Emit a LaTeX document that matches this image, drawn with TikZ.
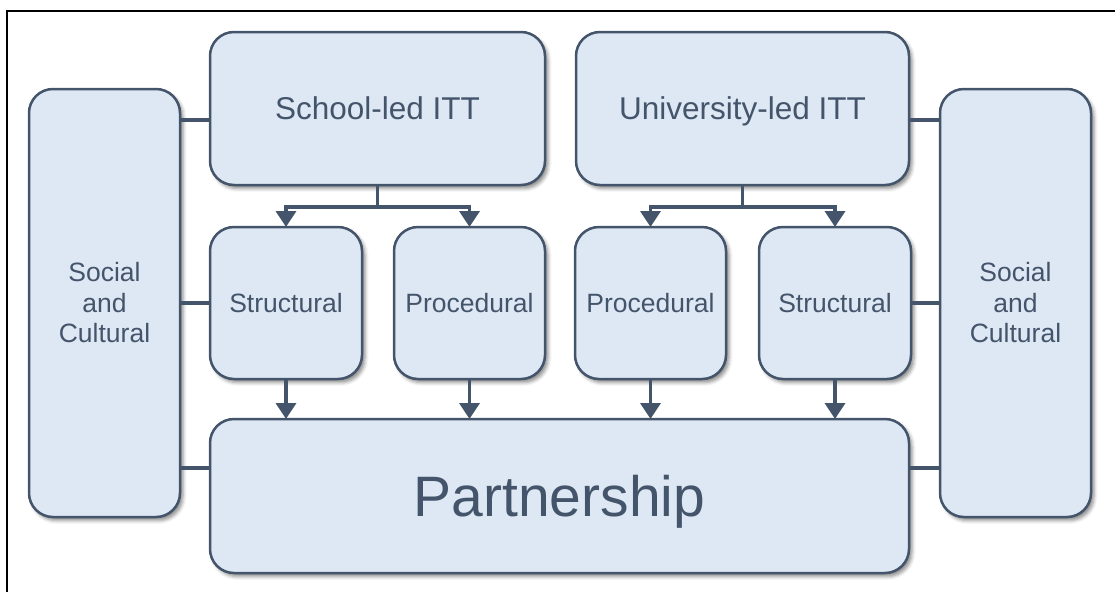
\documentclass[tikz,border=0pt]{standalone}
\usepackage{fontspec}
\setmainfont{Liberation Sans}
\usetikzlibrary{arrows.meta,shadows.blur}
\definecolor{boxfill}{RGB}{221,232,244}
\definecolor{boxline}{RGB}{68,84,106}
\begin{document}
\begin{tikzpicture}[x=1pt,y=-1pt,
  box/.style={draw=boxline, fill=boxfill, line width=2.5pt, rounded corners=24pt,
    inner sep=0pt, outer sep=0pt, text=boxline, align=center,
    blur shadow={shadow xshift=3pt, shadow yshift=-3.5pt, shadow blur radius=3.5pt, shadow opacity=45},
    font=\fontsize{26.5}{30.5}\selectfont},
  oneline/.style={text depth=0pt},
  conn/.style={draw=boxline, line width=3.5pt},
  arr/.style={conn, -{Triangle[width=20pt,length=16pt]}}]
\useasboundingbox (0,0) rectangle (1115,592);
% frame (left and top only)
\draw[black, line width=2.5pt] (7,592) -- (7,11) -- (1115,11);
% boxes
\node[box, minimum width=151pt, minimum height=428pt] (socL) at (104.5,303) {Social\\and\\Cultural};
\node[box, minimum width=151pt, minimum height=428pt] (socR) at (1015.5,303) {Social\\and\\Cultural};
\node[box, oneline, minimum width=335pt, minimum height=153pt, font=\fontsize{31.5}{36}\selectfont] (school) at (377.5,108.5) {School-led ITT};
\node[box, oneline, minimum width=333pt, minimum height=153pt, font=\fontsize{31.5}{36}\selectfont] (uni) at (742.5,108.5) {University-led ITT};
\node[box, oneline, minimum width=152pt, minimum height=152pt] (strL) at (286,303) {Structural};
\node[box, oneline, minimum width=151pt, minimum height=152pt] (proL) at (469.5,303) {Procedural};
\node[box, oneline, minimum width=151pt, minimum height=152pt] (proR) at (650.5,303) {Procedural};
\node[box, oneline, minimum width=152pt, minimum height=152pt] (strR) at (835,303) {Structural};
\node[box, oneline, minimum width=699pt, minimum height=154pt, font=\fontsize{57}{64}\selectfont] (part) at (559.5,496) {Partnership};
% side connectors
\draw[conn] (socL.east |- 0,120) -- (school.west |- 0,120);
\draw[conn] (socL.east |- strL.west) -- (strL.west);
\draw[conn] (socL.east |- 0,468) -- (part.west |- 0,468);
\draw[conn] (socR.west |- 0,120) -- (uni.east |- 0,120);
\draw[conn] (socR.west |- strR.east) -- (strR.east);
\draw[conn] (socR.west |- 0,468) -- (part.east |- 0,468);
% branches
\coordinate (jS) at (school.south |- 0,207);
\coordinate (jU) at (uni.south |- 0,207);
\draw[conn] (school.south) -- (jS);
\draw[conn] (uni.south) -- (jU);
\draw[arr] (jS) -| (strL.north);
\draw[arr] (jS) -| (proL.north);
\draw[arr] (jU) -| (proR.north);
\draw[arr] (jU) -| (strR.north);
% down arrows
\draw[arr] (strL.south) -- (strL.south |- part.north);
\draw[arr] (proL.south) -- (proL.south |- part.north);
\draw[arr] (proR.south) -- (proR.south |- part.north);
\draw[arr] (strR.south) -- (strR.south |- part.north);
\end{tikzpicture}
\end{document}
